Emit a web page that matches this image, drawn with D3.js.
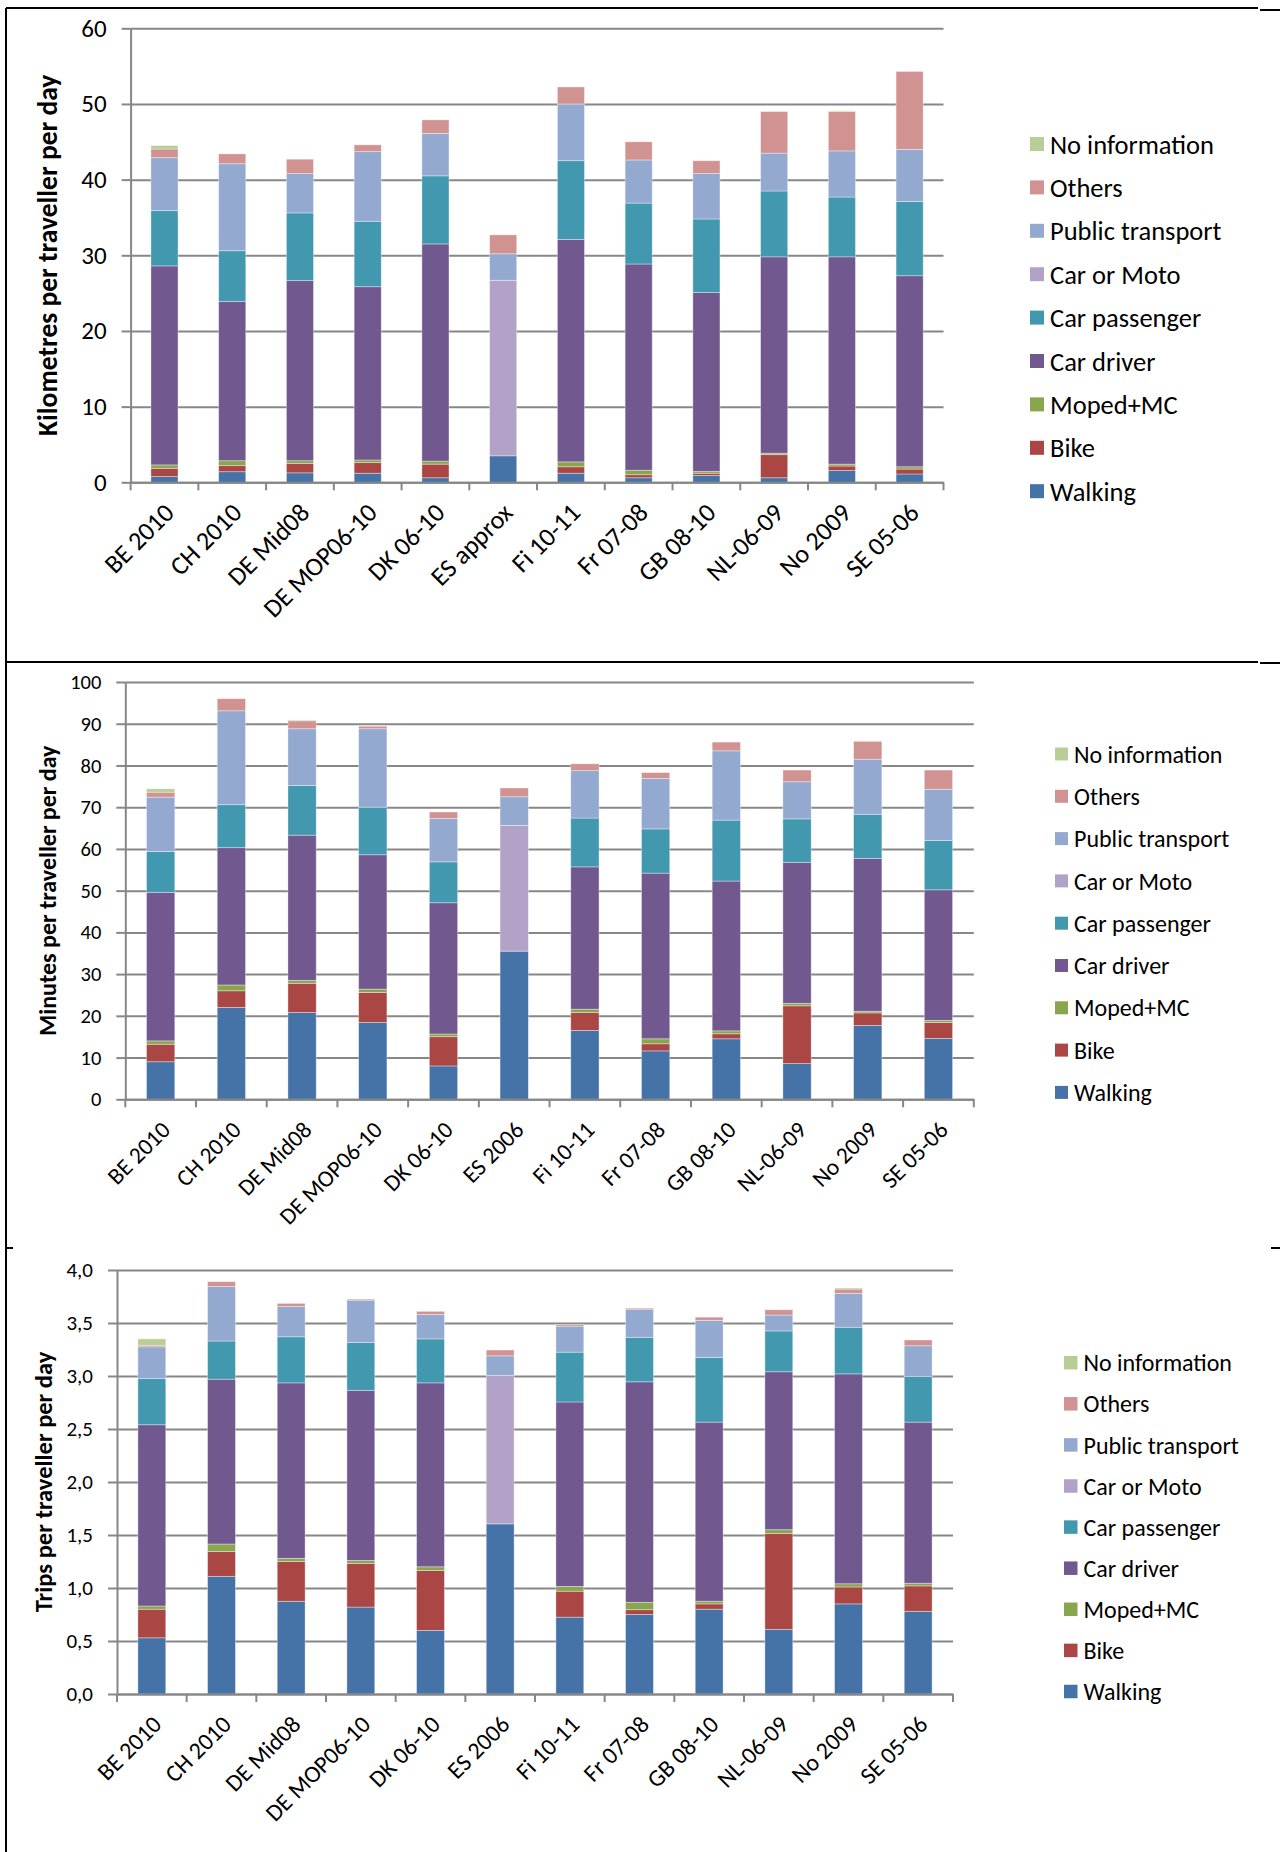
<!DOCTYPE html>
<html>
<head>
<meta charset="utf-8">
<script src="https://cdn.jsdelivr.net/npm/d3@7"></script>
<style>
  body { margin: 0; background: #fff; }
  svg text { font-family: Carlito, Lato, "Open Sans", sans-serif; fill: #000; }
</style>
</head>
<body>
<svg id="chart" width="1280" height="1852"></svg>
<script>
/* travel survey comparison, three stacked bar charts */

const seriesNames = ["Walking", "Bike", "Moped+MC", "Car driver", "Car passenger", "Car or Moto", "Public transport", "Others", "No information"];
const seriesColors = ["#4572A7", "#AA4643", "#89A54E", "#71588F", "#4198AF", "#B3A2C7", "#93A9CF", "#D19392", "#B9CD96"];

const kmCategories = ["BE 2010", "CH 2010", "DE Mid08", "DE MOP06-10", "DK 06-10", "ES approx", "Fi 10-11", "Fr 07-08", "GB 08-10", "NL-06-09", "No 2009", "SE 05-06"];
const surveyCategories = ["BE 2010", "CH 2010", "DE Mid08", "DE MOP06-10", "DK 06-10", "ES 2006", "Fi 10-11", "Fr 07-08", "GB 08-10", "NL-06-09", "No 2009", "SE 05-06"];

const kmTicks = [0, 10, 20, 30, 40, 50, 60];
const minuteTicks = [0, 10, 20, 30, 40, 50, 60, 70, 80, 90, 100];
const tripTicks = [0, 0.5, 1, 1.5, 2, 2.5, 3, 3.5, 4];

// kilometres per traveller per day
const kmWalking   = [0.75, 1.4, 1.25, 1.2, 0.6, 3.5, 1.2, 0.6, 0.9, 0.6, 1.55, 1.1];
const kmBike      = [1.1, 0.8, 1.25, 1.4, 1.8, 0, 0.85, 0.4, 0.3, 3.05, 0.6, 0.65];
const kmMoped     = [0.45, 0.65, 0.35, 0.35, 0.4, 0, 0.65, 0.6, 0.25, 0.2, 0.25, 0.3];
const kmDriver    = [26.3, 21.05, 23.8, 22.9, 28.7, 0, 29.4, 27.25, 23.65, 25.95, 27.4, 25.25];
const kmPassenger = [7.3, 6.7, 8.95, 8.65, 9.0, 0, 10.4, 8.05, 9.7, 8.7, 7.9, 9.8];
const kmCarMoto   = [0, 0, 0, 0, 0, 23.2, 0, 0, 0, 0, 0, 0];
const kmPublic    = [7.0, 11.5, 5.2, 9.2, 5.6, 3.5, 7.5, 5.7, 6.0, 5.0, 6.1, 6.9];
const kmOthers    = [1.15, 1.3, 1.9, 0.9, 1.8, 2.5, 2.25, 2.4, 1.7, 5.5, 5.2, 10.3];
const kmNoInfo    = [0.45, 0, 0, 0, 0, 0, 0, 0, 0, 0, 0.1, 0];

// minutes per traveller per day
const minWalking   = [9.0, 22.0, 20.8, 18.4, 8.0, 35.5, 16.5, 11.6, 14.5, 8.55, 17.7, 14.6];
const minBike      = [4.2, 4.0, 7.0, 7.2, 7.0, 0, 4.3, 1.7, 1.2, 13.85, 3.0, 3.8];
const minMoped     = [0.8, 1.4, 0.7, 0.8, 0.65, 0, 0.8, 1.2, 0.7, 0.6, 0.4, 0.5];
const minDriver    = [35.6, 32.9, 34.8, 32.2, 31.45, 0, 34.1, 39.7, 35.9, 33.8, 36.6, 31.3];
const minPassenger = [9.8, 10.3, 11.9, 11.4, 9.8, 0, 11.7, 10.6, 14.6, 10.4, 10.6, 11.8];
const minCarMoto   = [0, 0, 0, 0, 0, 30.15, 0, 0, 0, 0, 0, 0];
const minPublic    = [13.0, 22.5, 13.6, 18.8, 10.4, 6.85, 11.35, 12.1, 16.6, 8.9, 13.2, 12.3];
const minOthers    = [1.2, 2.9, 1.9, 0.6, 1.55, 2.1, 1.65, 1.4, 2.1, 2.8, 4.3, 4.6];
const minNoInfo    = [0.8, 0, 0.2, 0, 0, 0, 0, 0, 0, 0, 0.1, 0];

// trips per traveller per day
const tripWalking   = [0.53, 1.11, 0.875, 0.82, 0.6, 1.605, 0.725, 0.75, 0.8, 0.61, 0.85, 0.78];
const tripBike      = [0.27, 0.235, 0.375, 0.41, 0.565, 0, 0.245, 0.045, 0.05, 0.905, 0.16, 0.24];
const tripMoped     = [0.03, 0.07, 0.03, 0.03, 0.035, 0, 0.045, 0.07, 0.025, 0.035, 0.03, 0.025];
const tripDriver    = [1.71, 1.555, 1.655, 1.605, 1.735, 0, 1.74, 2.08, 1.69, 1.49, 1.98, 1.52];
const tripPassenger = [0.435, 0.36, 0.435, 0.45, 0.415, 0, 0.47, 0.42, 0.61, 0.385, 0.44, 0.43];
const tripCarMoto   = [0, 0, 0, 0, 0, 1.4, 0, 0, 0, 0, 0, 0];
const tripPublic    = [0.30, 0.515, 0.285, 0.40, 0.23, 0.185, 0.245, 0.265, 0.35, 0.15, 0.32, 0.29];
const tripOthers    = [0.015, 0.045, 0.03, 0.01, 0.03, 0.055, 0.015, 0.01, 0.03, 0.05, 0.04, 0.055];
const tripNoInfo    = [0.06, 0, 0, 0, 0, 0, 0, 0, 0, 0, 0.01, 0];

const commaFormat = d3.formatLocale({decimal: ",", thousands: ".", grouping: [3], currency: ["", ""]});

const charts = [
  {
    title: "Kilometres per traveller per day",
    categories: kmCategories,
    series: [kmWalking, kmBike, kmMoped, kmDriver, kmPassenger, kmCarMoto, kmPublic, kmOthers, kmNoInfo],
    ticks: kmTicks, fmt: d3.format("d"),
    left: 130.6, right: 943.5, top: 28.3, bottom: 482.3, titleX: 47, titleSize: 27.5,
    tickSize: 25, labelSize: 26,
    legendX: 1030, legendY: 144, legendStep: 43.4, legendSize: 26.5, swatch: 14
  },
  {
    title: "Minutes per traveller per day",
    categories: surveyCategories,
    series: [minWalking, minBike, minMoped, minDriver, minPassenger, minCarMoto, minPublic, minOthers, minNoInfo],
    ticks: minuteTicks, fmt: d3.format("d"),
    left: 125.3, right: 973.8, top: 682, bottom: 1099.3, titleX: 48, titleSize: 24,
    tickSize: 20.5, labelSize: 23.5,
    legendX: 1055, legendY: 754, legendStep: 42.3, legendSize: 24, swatch: 13
  },
  {
    title: "Trips per traveller per day",
    categories: surveyCategories,
    series: [tripWalking, tripBike, tripMoped, tripDriver, tripPassenger, tripCarMoto, tripPublic, tripOthers, tripNoInfo],
    ticks: tripTicks, fmt: commaFormat.format(".1f"),
    left: 117, right: 953, top: 1270, bottom: 1694, titleX: 43, titleSize: 24.5,
    tickSize: 21, labelSize: 24,
    legendX: 1064, legendY: 1362.7, legendStep: 41.1, legendSize: 24, swatch: 13.5
  }
];

const svg = d3.select("#chart");
const gridColor = "#878787";

// frame lines round the panels
const frame = svg.append("g").attr("stroke", "#000").attr("stroke-width", 2);
frame.append("line").attr("x1", 6).attr("x2", 6).attr("y1", 8).attr("y2", 1852);
frame.append("line").attr("x1", 6).attr("x2", 1258).attr("y1", 8).attr("y2", 8);
frame.append("line").attr("x1", 1260).attr("x2", 1280).attr("y1", 10).attr("y2", 10);
frame.append("line").attr("x1", 6).attr("x2", 1258).attr("y1", 662).attr("y2", 662);
frame.append("line").attr("x1", 1260).attr("x2", 1280).attr("y1", 663).attr("y2", 663);
frame.append("line").attr("x1", 6).attr("x2", 13).attr("y1", 1248).attr("y2", 1248);
frame.append("line").attr("x1", 1271).attr("x2", 1280).attr("y1", 1248).attr("y2", 1248);

charts.forEach(c => {
  const g = svg.append("g");

  const rows = c.categories.map((cat, i) => {
    const row = {cat: cat};
    seriesNames.forEach((s, k) => { row[s] = c.series[k][i]; });
    return row;
  });

  const x = d3.scaleBand().domain(c.categories).range([c.left, c.right]).paddingInner(0.6).paddingOuter(0.3);
  const y = d3.scaleLinear().domain([0, d3.max(c.ticks)]).range([c.bottom, c.top]);
  const color = d3.scaleOrdinal().domain(seriesNames).range(seriesColors);

  // gridlines
  g.append("g")
    .attr("transform", `translate(${c.left},0)`)
    .call(d3.axisLeft(y).tickValues(c.ticks).tickSize(-(c.right - c.left)).tickFormat(""))
    .call(a => a.select(".domain").remove())
    .call(a => a.selectAll("line").attr("stroke", gridColor).attr("stroke-width", 2));

  // y axis with labels
  g.append("g")
    .attr("transform", `translate(${c.left},0)`)
    .call(d3.axisLeft(y).tickValues(c.ticks).tickSizeInner(9).tickSizeOuter(0).tickPadding(15).tickFormat(c.fmt))
    .call(a => a.select(".domain").attr("stroke", gridColor).attr("stroke-width", 2))
    .call(a => a.selectAll("line").attr("stroke", gridColor).attr("stroke-width", 2))
    .call(a => a.selectAll("text").style("font-size", c.tickSize + "px").attr("fill", "#000"));

  // stacked bars
  const stack = d3.stack().keys(seriesNames)(rows);
  g.append("g").selectAll("g").data(stack).enter()
    .append("g")
    .attr("fill", d => color(d.key))
    .selectAll("rect").data(d => d.filter(p => p[1] - p[0] > 0)).enter()
    .append("rect")
    .attr("x", d => x(d.data.cat))
    .attr("width", x.bandwidth())
    .attr("y", d => y(d[1]))
    .attr("height", d => y(d[0]) - y(d[1]))
    .attr("stroke", "#fff")
    .attr("stroke-opacity", 0.45)
    .attr("stroke-width", 0.8);

  // x axis: labels at centres, tick marks between categories
  const xAxis = g.append("g")
    .attr("transform", `translate(0,${c.bottom})`)
    .call(d3.axisBottom(x).tickSize(0).tickSizeOuter(0).tickPadding(0))
    .call(a => a.select(".domain").attr("stroke", gridColor).attr("stroke-width", 2));
  xAxis.selectAll(".tick text")
    .style("font-size", c.labelSize + "px")
    .attr("fill", "#000")
    .attr("text-anchor", "end")
    .attr("y", 0)
    .attr("dy", 0)
    .attr("transform", "translate(11,32) rotate(-45)");

  const step = x.step();
  const bounds = c.categories.map(cat => x(cat) - step * 0.3).concat([c.right]);
  g.append("g").selectAll("line").data(bounds).enter()
    .append("line")
    .attr("x1", d => d).attr("x2", d => d)
    .attr("y1", c.bottom).attr("y2", c.bottom + 8)
    .attr("stroke", gridColor).attr("stroke-width", 2);

  // y title
  g.append("text")
    .attr("transform", `translate(${c.titleX},${(c.top + c.bottom) / 2}) rotate(-90)`)
    .attr("text-anchor", "middle")
    .attr("dy", "0.35em")
    .style("font-size", c.titleSize + "px")
    .style("font-weight", "bold")
    .text(c.title);

  // legend, top entry is the last series
  const legend = g.append("g").selectAll("g").data(seriesNames.slice().reverse()).enter()
    .append("g")
    .attr("transform", (d, i) => `translate(${c.legendX},${c.legendY + i * c.legendStep})`);
  legend.append("rect")
    .attr("x", 0).attr("y", -c.swatch / 2)
    .attr("width", c.swatch).attr("height", c.swatch)
    .attr("fill", d => color(d));
  legend.append("text")
    .attr("x", c.swatch + 6)
    .attr("dy", "0.36em")
    .style("font-size", c.legendSize + "px")
    .text(d => d);
});
</script>
</body>
</html>
